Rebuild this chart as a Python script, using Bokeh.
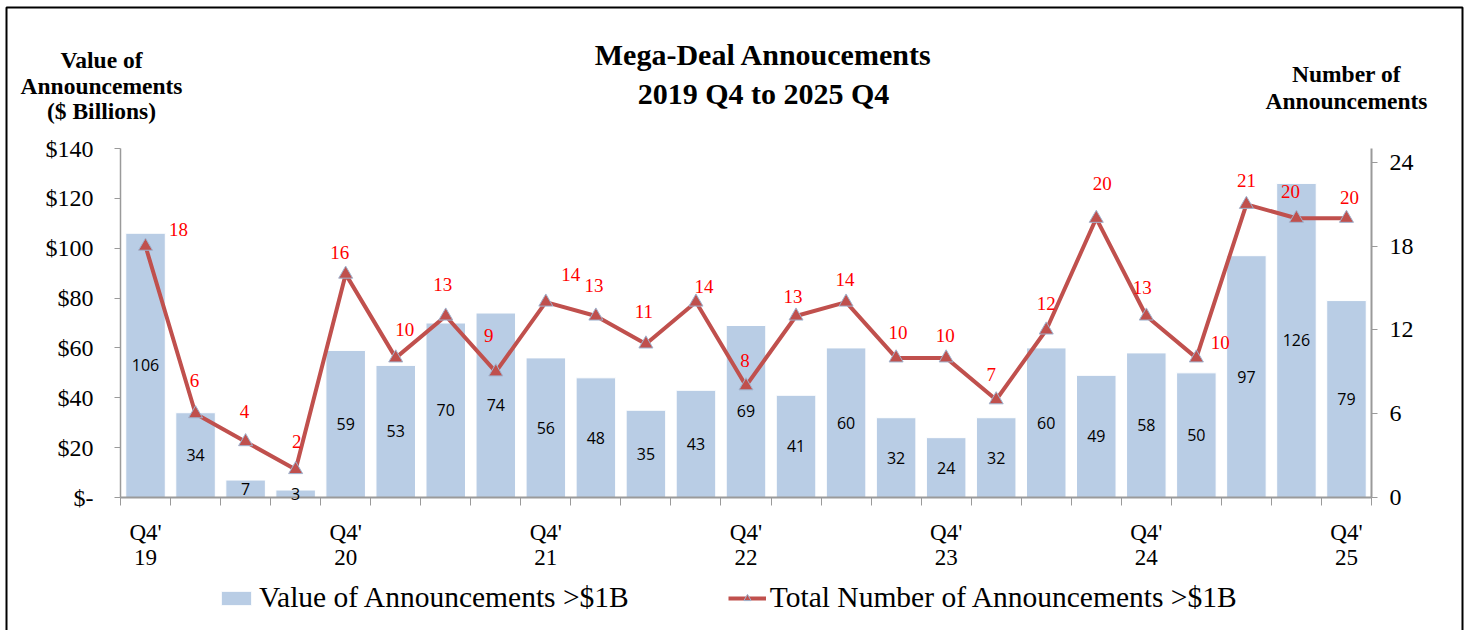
from bokeh.plotting import figure
from bokeh.models import (ColumnDataSource, LinearAxis, Range1d, FixedTicker, LabelSet,
                          Label, Legend, LegendItem, BoxAnnotation)
from bokeh.core.properties import value
from bokeh.embed import file_html
from bokeh.resources import INLINE

# ---------------- data ----------------
quarters = ["Q4'19", "Q1'20", "Q2'20", "Q3'20", "Q4'20", "Q1'21", "Q2'21", "Q3'21", "Q4'21",
            "Q1'22", "Q2'22", "Q3'22", "Q4'22", "Q1'23", "Q2'23", "Q3'23", "Q4'23",
            "Q1'24", "Q2'24", "Q3'24", "Q4'24", "Q1'25", "Q2'25", "Q3'25", "Q4'25"]
value_bn = [106, 34, 7, 3, 59, 53, 70, 74, 56, 48, 35, 43, 69, 41, 60, 32, 24, 32,
            60, 49, 58, 50, 97, 126, 79]
deal_count = [18, 6, 4, 2, 16, 10, 13, 9, 14, 13, 11, 14, 8, 13, 14, 10, 10, 7,
              12, 20, 13, 10, 21, 20, 20]
tick_labels = {0: "Q4'\n19", 4: "Q4'\n20", 8: "Q4'\n21", 12: "Q4'\n22",
               16: "Q4'\n23", 20: "Q4'\n24", 24: "Q4'\n25"}
left_ticks = [0, 20, 40, 60, 80, 100, 120, 140]
left_tick_text = {0: "$-", 20: "$20", 40: "$40", 60: "$60", 80: "$80",
                  100: "$100", 120: "$120", 140: "$140"}
right_ticks = [0, 6, 12, 18, 24]
title_lines = ["Mega-Deal Annoucements", "2019 Q4 to 2025 Q4"]
left_title_lines = ["Value of", "Announcements", "($ Billions)"]
right_title_lines = ["Number of", "Announcements"]
legend_labels = ["Value of Announcements >$1B", "Total Number of Announcements >$1B"]

# label placement (pixel offsets, styling only)
lab_dx = [33, -1, -1, 1, -6, 9, -3, -7, 25, -2, -2, 8, -1, -3, -1, 2, -1, -5,
          0, 6, -4, 24, 0, -6, 3]
lab_dy = [17, 33, 30, 28, 22, 28, 32, 36, 28, 31, 32, 16, 25, 20, 23, 25, 22, 25,
          26, 35, 29, 15, 24, 27, 21]

SERIF = "Liberation Serif"
BAR_COLOR = "#B9CDE5"
LINE_COLOR = "#C0504D"
AXIS_COLOR = "#9A9A9A"

W, H = 1471, 630
# plot area in canvas pixels
FL, FR, FT, FB = 120, 1371, 148, 497
n_cat = len(quarters)
x0, x1 = -0.5, n_cat - 0.5
ymax_l, ymax_r = 140, 25

# ranges extended so that the data area sits at the plot-area pixels; the frame is the whole canvas
px_x = (FR - FL) / (x1 - x0)
px_l = (FB - FT) / ymax_l
px_r = (FB - FT) / ymax_r
xr = Range1d(x0 - FL / px_x, x1 + (W - FR) / px_x)
yr = Range1d(-(H - FB) / px_l, ymax_l + FT / px_l)
yr_right = Range1d(-(H - FB) / px_r, ymax_r + FT / px_r)

xs = list(range(n_cat))
src = ColumnDataSource(dict(
    x=xs, q=quarters, v=value_bn, vmid=[v / 2 for v in value_bn],
    vtxt=[str(v) for v in value_bn],
    n=deal_count, ntxt=[str(n) for n in deal_count],
    dx=lab_dx, dy=lab_dy,
))

p = figure(width=W, height=H, output_backend="svg", toolbar_location=None,
           x_range=xr, y_range=yr, min_border=0, min_border_left=0, min_border_right=0,
           min_border_top=0, min_border_bottom=0)
p.outline_line_color = None
p.xgrid.visible = False
p.ygrid.visible = False
p.background_fill_color = "white"
p.border_fill_color = "white"
p.extra_y_ranges = {"right": yr_right}

bars = p.vbar(x="x", top="v", width=0.79, source=src, fill_color=BAR_COLOR,
              line_color="white", line_width=1)
ln = p.line(x="x", y="n", source=src, y_range_name="right", line_color=LINE_COLOR,
            line_width=4)
mk = p.scatter(x="x", y="n", source=src, y_range_name="right", marker="triangle",
               size=14, fill_color=LINE_COLOR, line_color="#9FB3CF", line_width=1)

p.add_layout(LabelSet(x="x", y="vmid", text="vtxt", source=src,
                      text_align="center", text_baseline="middle",
                      text_font=value("Open Sans"), text_font_size=value("16px"),
                      text_color="black"))
p.add_layout(LabelSet(x="x", y="n", text="ntxt", source=src, y_range_name="right",
                      x_offset="dx", y_offset="dy",
                      text_align="center", text_baseline="middle",
                      text_font=value(SERIF), text_font_size=value("19px"),
                      text_color="#FF0000"))

# axes (fixed at the plot-area edges)
xa = p.xaxis[0]
xa.fixed_location = 0
xa.bounds = (x0, x1)
xa.ticker = FixedTicker(ticks=sorted(tick_labels.keys()),
                        minor_ticks=[i - 0.5 for i in range(n_cat + 1)])
xa.major_label_overrides = tick_labels
xa.major_tick_out = 0
xa.major_tick_in = 0
xa.minor_tick_out = 8
xa.minor_tick_in = 0
xa.minor_tick_line_color = AXIS_COLOR
xa.axis_line_color = AXIS_COLOR
xa.axis_line_width = 2
xa.major_label_standoff = 14
xa.major_label_text_font = SERIF
xa.major_label_text_font_size = "23px"
xa.major_label_text_line_height = 1.0
xa.major_label_text_color = "black"

ya = p.yaxis[0]
ya.fixed_location = x0
ya.bounds = (0, ymax_l)
ya.ticker = FixedTicker(ticks=left_ticks, minor_ticks=[])
ya.major_label_overrides = left_tick_text
ya.major_tick_out = 6
ya.major_tick_in = 0
ya.major_tick_line_color = AXIS_COLOR
ya.axis_line_color = AXIS_COLOR
ya.axis_line_width = 1.5
ya.major_label_standoff = 21
ya.major_label_text_font = SERIF
ya.major_label_text_font_size = "24px"
ya.major_label_text_color = "black"

ra = LinearAxis(y_range_name="right", ticker=FixedTicker(ticks=right_ticks, minor_ticks=[]))
ra.fixed_location = x1
ra.bounds = (0, ymax_r)
ra.major_tick_out = 6
ra.major_tick_in = 0
ra.major_tick_line_color = AXIS_COLOR
ra.axis_line_color = AXIS_COLOR
ra.axis_line_width = 2
ra.major_label_standoff = 12
ra.major_label_text_font = SERIF
ra.major_label_text_font_size = "24px"
ra.major_label_text_color = "black"
p.add_layout(ra, "right")


def add_text(txt, cx, cy_base, size):
    p.add_layout(Label(x=cx, y=H - cy_base, x_units="screen", y_units="screen",
                       text=txt, text_align="center", text_baseline="alphabetic",
                       text_font=SERIF, text_font_size=size,
                       text_font_style="bold", text_color="black"))


for t, yb in zip(title_lines, [54, 93]):
    add_text(t, 763, yb, "30px")
for t, yb in zip(left_title_lines, [59, 85, 110]):
    add_text(t, 101, yb, "23.5px")
for t, yb in zip(right_title_lines, [73, 100]):
    add_text(t, 1346, yb, "23.5px")

legend = Legend(items=[LegendItem(label=legend_labels[0], renderers=[bars]),
                       LegendItem(label=legend_labels[1], renderers=[ln, mk])],
                orientation="horizontal", location=(217, 16),
                glyph_width=38, glyph_height=18, label_standoff=4, spacing=99,
                padding=0, margin=0, border_line_color=None, background_fill_alpha=0,
                label_text_font=SERIF, label_text_font_size="29.5px", label_text_color="black")
p.add_layout(legend, "center")

p.add_layout(BoxAnnotation(left=6, right=1462, top=7, bottom=700,
                           left_units="canvas", right_units="canvas",
                           top_units="canvas", bottom_units="canvas",
                           fill_alpha=0, line_color="black", line_alpha=1.0, line_width=2))

open("out.html", "w").write(file_html(p, INLINE))
